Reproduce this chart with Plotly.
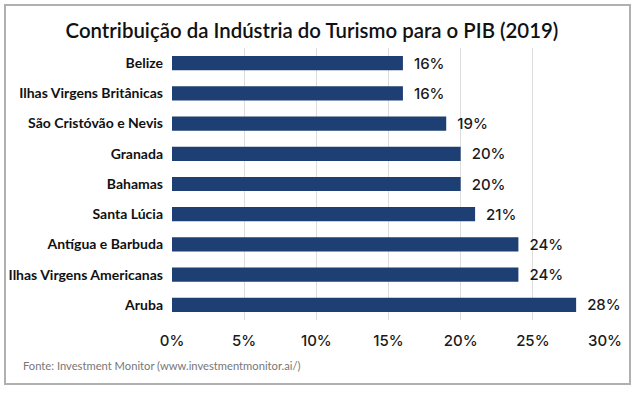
import plotly.graph_objects as go

categories = ["Belize", "Ilhas Virgens Britânicas", "São Cristóvão e Nevis", "Granada",
              "Bahamas", "Santa Lúcia", "Antígua e Barbuda", "Ilhas Virgens Americanas", "Aruba"]
values = [16, 16, 19, 20, 20, 21, 24, 24, 28]
tick_vals = [0, 5, 10, 15, 20, 25, 30]
tick_text = ["0%", "5%", "10%", "15%", "20%", "25%", "30%"]

W, H = 640, 394
L, R, T, B = 172, 35, 48, 74
pw, ph = W - L - R, H - T - B

fig = go.Figure(go.Bar(
    x=values, y=categories, orientation="h",
    marker=dict(color="#1e3f74", line=dict(width=0)),
    text=["\u00a0\u00a0" + f"{v}%" for v in values],
    textposition="outside", cliponaxis=False, constraintext="none",
    textfont=dict(family="Inter", size=15, color="#1a1a1a", weight=500),
    width=0.47, hoverinfo="skip",
))

fig.update_layout(
    width=W, height=H, margin=dict(l=L, r=R, t=T, b=B, autoexpand=False),
    paper_bgcolor="white", plot_bgcolor="white", showlegend=False,
    title=dict(text="Contribuição da Indústria do Turismo para o PIB (2019)",
               x=312 / W, xref="container", xanchor="center", y=1 - 31 / H, yref="container",
               yanchor="middle",
               font=dict(family="Lato", size=20.4, color="#111111", weight=600)),
    xaxis=dict(range=[0, 30], tickvals=tick_vals, ticktext=tick_text, automargin=False,
               showgrid=True, gridcolor="#dddddd", gridwidth=1, zeroline=False,
               showline=False, ticks="", ticklen=0, ticklabelstandoff=10,
               tickfont=dict(family="Inter", size=15, color="#1a1a1a", weight=500)),
    yaxis=dict(autorange="reversed", showgrid=False, showline=False, ticks="",
               ticklabelstandoff=8, automargin=False,
               tickfont=dict(family="Lato", size=14, color="#111111", weight=700)),
    annotations=[dict(text="Fonte: Investment Monitor (www.investmentmonitor.ai/)",
                      xref="paper", yref="paper", x=(21 - L) / pw, y=(H - B - 365) / ph,
                      xanchor="left", yanchor="middle", showarrow=False,
                      font=dict(family="Lato", size=11.2, color="#777777"))],
    shapes=[dict(type="rect", xref="paper", yref="paper",
                 x0=(5 - L) / pw, x1=(630 - L) / pw,
                 y0=(H - B - 384) / ph, y1=(H - B - 5) / ph,
                 line=dict(color="#b0b0b0", width=2), fillcolor="rgba(0,0,0,0)", layer="below")],
)

fig.write_html("out.html", config={"displayModeBar": False},
               post_script="document.body.style.margin='0';document.body.style.overflow='hidden';")
